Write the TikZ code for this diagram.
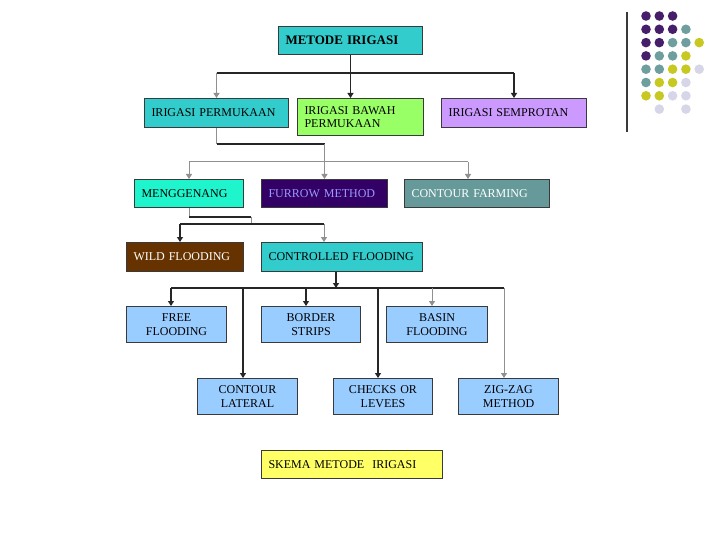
\documentclass[tikz,border=0pt]{standalone}
\usepackage{fontspec}
\setmainfont{Liberation Serif}
\usetikzlibrary{arrows.meta}
\definecolor{cyanbox}{HTML}{33CCCC}
\definecolor{greenbox}{HTML}{99FF66}
\definecolor{lilacbox}{HTML}{CC99FF}
\definecolor{aquabox}{HTML}{1EF5CC}
\definecolor{furrowbox}{HTML}{330066}
\definecolor{furrowtext}{HTML}{9999FF}
\definecolor{tealbox}{HTML}{669999}
\definecolor{brownbox}{HTML}{663300}
\definecolor{bluebox}{HTML}{99CCFF}
\definecolor{yellowbox}{HTML}{FFFF66}
\definecolor{edge}{HTML}{3A3A3A}
\definecolor{dkline}{HTML}{262626}
\definecolor{gyline}{HTML}{909090}
\definecolor{dP}{HTML}{461E6A}
\definecolor{dT}{HTML}{6E9E9E}
\definecolor{dY}{HTML}{C8C822}
\definecolor{dL}{HTML}{D6D6E8}
\begin{document}
\begin{tikzpicture}[x=1pt,y=-1pt,
  font=\fontsize{12}{13.5}\selectfont,
  box/.style={draw=edge,line width=1pt,anchor=north west,inner xsep=7pt,inner ysep=0pt,align=left},
  cbox/.style={box,fill=bluebox,align=center,minimum height=36pt},
  dk/.style={draw=dkline,line width=1.5pt},
  gy/.style={draw=gyline,line width=1pt},
  tip/.style={-{Triangle[length=5pt,width=6pt]}}]
\useasboundingbox[fill=white] (0,0) rectangle (720,540);

% boxes
\node[box,fill=cyanbox,text width=130pt,minimum height=28pt] (mi) at (278,26) {\fontsize{13}{14}\selectfont\textbf{METODE IRIGASI}};
\node[box,fill=cyanbox,text width=130pt,minimum height=29pt] (ip) at (144,98) {IRIGASI PERMUKAAN};
\node[box,fill=greenbox,text width=112pt,minimum height=37pt] (bp) at (297,98) {IRIGASI BAWAH\\PERMUKAAN};
\node[box,fill=lilacbox,text width=131pt,minimum height=29pt] (is) at (441,98) {IRIGASI SEMPROTAN};
\node[box,fill=aquabox,text width=95pt,minimum height=28pt] (mg) at (134,179) {MENGGENANG};
\node[box,fill=furrowbox,text=furrowtext,text width=112pt,minimum height=28pt] (fm) at (261,179) {FURROW METHOD};
\node[box,fill=tealbox,text=white,text width=131pt,minimum height=28pt] (cf) at (404,179) {CONTOUR FARMING};
\node[box,fill=brownbox,text=white,text width=103pt,minimum height=29pt] (wf) at (126,242) {WILD FLOODING};
\node[box,fill=cyanbox,text width=147pt,minimum height=29pt] (cfl) at (261,242) {CONTROLLED FLOODING};
\node[cbox,text width=86pt] (ff) at (126,306) {FREE\\FLOODING};
\node[cbox,text width=85pt] (bs) at (261,306) {BORDER\\STRIPS};
\node[cbox,text width=87pt] (bf) at (386,306) {BASIN\\FLOODING};
\node[cbox,text width=86pt] (cl) at (197,378) {CONTOUR\\LATERAL};
\node[cbox,text width=85pt] (cl2) at (333,378) {CHECKS OR\\LEVEES};
\node[cbox,text width=86pt] (zz) at (458,378) {ZIG-ZAG\\METHOD};
\node[box,fill=yellowbox,text width=167pt,minimum height=28pt] (sk) at (261,450) {SKEMA METODE\ \ IRIGASI};

% level 1 connectors
\path (mi.south) ++(0,18) coordinate (j1);
\draw[dk] (mi.south) -- (j1);
\draw[dk] (ip.north |- j1) -- (is.north |- j1);
\draw[gy,tip] (ip.north |- j1) -- (ip.north);
\draw[dk,tip] (j1) -- (j1 |- bp.north);
\draw[dk,tip] (is.north |- j1) -- (is.north);

% level 2 connectors
\path (ip.south) ++(0,16) coordinate (j2a);
\coordinate (b2) at (324,162);
\coordinate (b2r) at (468,162);
\draw[gy] (ip.south) -- (j2a);
\draw[dk] (j2a) -- (j2a -| fm.north);
\draw[gy,tip] (j2a -| fm.north) -- (fm.north);
\draw[gy] (mg.north |- b2) -- (b2r);
\draw[gy,tip] (mg.north |- b2) -- (mg.north);
\draw[gy,tip] (b2r) -- (b2r |- cf.north);

% level 3 connectors
\path (mg.south) ++(0,9) coordinate (j3a);
\coordinate (j3c) at (251,224);
\coordinate (b3l) at (180,224);
\coordinate (b3r) at (324,224);
\draw[gy] (mg.south) -- (j3a);
\draw[dk] (j3a) -- (j3a -| j3c);
\draw[gy] (j3a -| j3c) -- (j3c);
\draw[dk] (b3l) -- (b3r);
\draw[dk,tip] (b3l) -- (b3l |- wf.north);
\draw[gy,tip] (b3r) -- (b3r |- cfl.north);

% level 4 connectors
\coordinate (j4) at (336,288);
\coordinate (b4l) at (171,288);
\coordinate (b4r) at (504,288);
\coordinate (c2) at (243,288);
\coordinate (c3) at (306,288);
\coordinate (c4) at (378,288);
\coordinate (c5) at (432,288);
\draw[dk] (b4l) -- (b4r);
\draw[dk,tip] (cfl.south -| j4) -- (j4);
\draw[dk,tip] (b4l) -- (b4l |- ff.north);
\draw[dk,tip] (c2) -- (c2 |- cl.north);
\draw[dk,tip] (c3) -- (c3 |- bs.north);
\draw[dk,tip] (c4) -- (c4 |- cl2.north);
\draw[gy,tip] (c5) -- (c5 |- bf.north);
\draw[gy,tip] (b4r) -- (b4r |- zz.north);

% decoration: vertical rule and dots
\draw[draw=edge,line width=1.5pt] (627,12) -- (627,132);
\foreach \c/\i/\j in {dP/0/0,dP/1/0,dP/2/0,
  dP/0/1,dP/1/1,dP/2/1,dT/3/1,
  dP/0/2,dP/1/2,dT/2/2,dT/3/2,dY/4/2,
  dP/0/3,dT/1/3,dT/2/3,dY/3/3,
  dT/0/4,dT/1/4,dY/2/4,dY/3/4,dL/4/4,
  dT/0/5,dY/1/5,dY/2/5,dL/3/5,
  dY/0/6,dY/1/6,dL/2/6,dL/3/6,
  dL/1/7,dL/3/7}
  \fill[\c] (646+13.3*\i,16+13.3*\j) circle[radius=4.8pt];
\end{tikzpicture}
\end{document}
